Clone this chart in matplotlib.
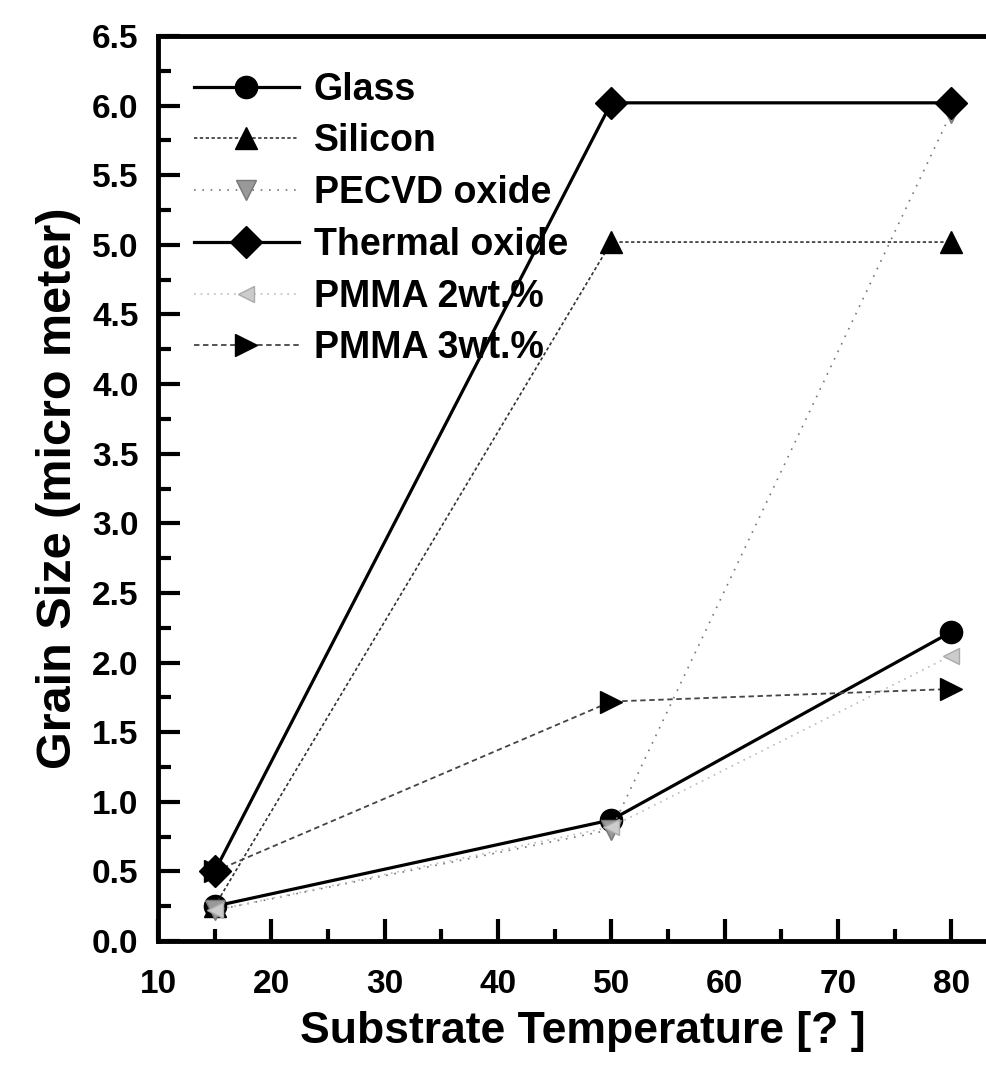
import matplotlib.pyplot as plt
from matplotlib.ticker import MultipleLocator

temps = [15, 50, 80]
glass = [0.25, 0.87, 2.22]
silicon = [0.25, 5.02, 5.02]
pecvd = [0.22, 0.80, 5.95]
thermal = [0.50, 6.02, 6.02]
pmma2 = [0.22, 0.82, 2.05]
pmma3 = [0.50, 1.72, 1.81]

plt.rcParams['font.family'] = ['Liberation Sans', 'DejaVu Sans']
plt.rcParams['font.weight'] = 'bold'

fig = plt.figure(figsize=(9.86, 10.67), dpi=100)
# right spine falls outside the picture, like the cropped original
ax = fig.add_axes([158 / 986, 126 / 1067, 850 / 986, 905 / 1067])

ax.plot(temps, glass, linestyle='-', color='black', lw=2.3, marker='o', ms=16, label='Glass')
ax.plot(temps, silicon, linestyle=(0, (2, 1.5)), color='#333333', lw=1.2, marker='^', ms=16,
        markerfacecolor='black', markeredgecolor='black', label='Silicon')
ax.plot(temps, pecvd, linestyle=(0, (1, 4)), color='#777777', lw=1.2, marker='v', ms=15,
        markerfacecolor='#999999', markeredgecolor='#777777', label='PECVD oxide')
ax.plot(temps, thermal, linestyle='-', color='black', lw=2.3, marker='D', ms=16,
        label='Thermal oxide', zorder=4)
ax.plot(temps, pmma2, linestyle=(0, (1, 3)), color='#bbbbbb', lw=1.2, marker='<', ms=12,
        markerfacecolor='#cccccc', markeredgecolor='#aaaaaa', label='PMMA 2wt.%')
ax.plot(temps, pmma3, linestyle=(0, (3, 2)), color='#444444', lw=1.3, marker='>', ms=16,
        markerfacecolor='black', markeredgecolor='black', label='PMMA 3wt.%')

ax.set_xlim(10, 85)
ax.set_ylim(0, 6.5)
ax.xaxis.set_major_locator(MultipleLocator(10))
ax.xaxis.set_minor_locator(MultipleLocator(5))
ax.yaxis.set_major_locator(MultipleLocator(0.5))
ax.yaxis.set_minor_locator(MultipleLocator(0.25))
ax.yaxis.set_major_formatter(plt.FormatStrFormatter('%.1f'))

ax.tick_params(which='both', direction='in', top=False, right=False, width=3, labelsize=24)
ax.tick_params(which='major', length=16)
ax.tick_params(which='minor', length=9)
ax.tick_params(axis='x', which='major', pad=20)
ax.tick_params(axis='y', which='major', pad=14)
for side in ['left', 'bottom', 'top', 'right']:
    ax.spines[side].set_linewidth(3.5)

ax.set_xlabel('Substrate Temperature [? ]', fontsize=32, fontweight='bold', labelpad=8)
ax.set_ylabel('Grain Size (micro meter)', fontsize=35, fontweight='bold', labelpad=8)

leg = ax.legend(loc='upper left', frameon=False, fontsize=27, handlelength=2.8,
                labelspacing=0.42, borderaxespad=0.55, handletextpad=0.4)
for t in leg.get_texts():
    t.set_fontweight('bold')

fig.savefig('out.png', dpi=100)
